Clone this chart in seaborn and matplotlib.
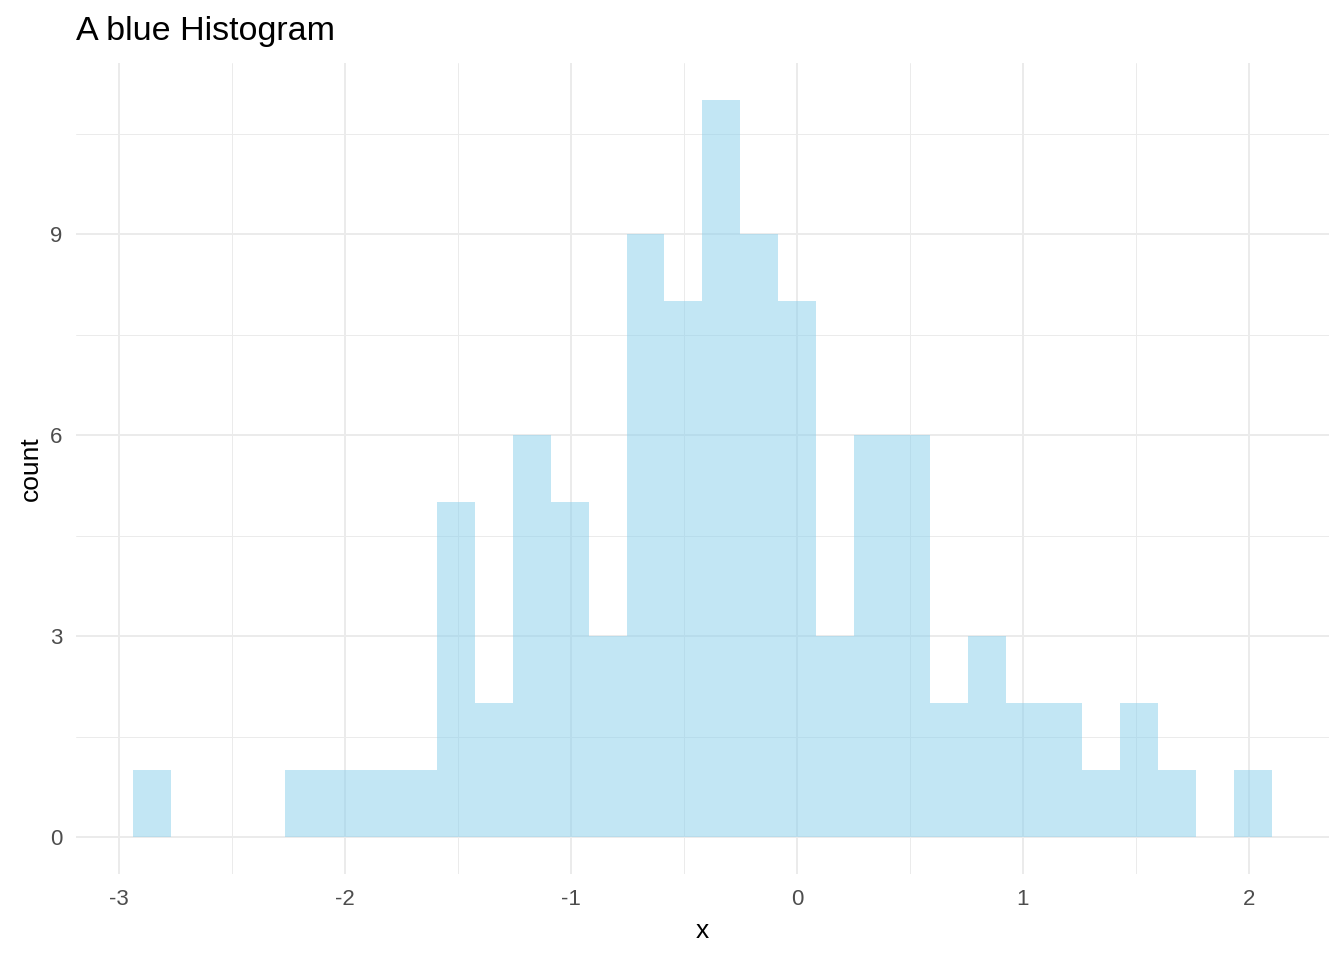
import numpy as np
import matplotlib
matplotlib.use("Agg")
import matplotlib.pyplot as plt
import seaborn as sns

# ---- data (30 bins) ----
bin_start = -2.938
bin_width = 0.168
counts = [1, 0, 0, 0, 1, 1, 1, 1, 5, 2,
          6, 5, 3, 9, 8, 11, 9, 8, 3, 6,
          6, 2, 3, 2, 2, 1, 2, 1, 0, 1]
x_ticks = [-3, -2, -1, 0, 1, 2]
y_ticks = [0, 3, 6, 9]

n_bins = len(counts)
bin_end = bin_start + n_bins * bin_width
centers = bin_start + bin_width * (np.arange(n_bins) + 0.5)

sns.set_theme(style="whitegrid")
plt.rcParams['font.family'] = ['Liberation Sans', 'DejaVu Sans']

fig = plt.figure(figsize=(13.44, 9.6), dpi=100)
ax = fig.add_axes([0.0565, 0.0896, 0.9323, 0.8444])

sns.histplot(x=centers, weights=counts, bins=n_bins, binrange=(bin_start, bin_end),
             color="#87CEEB", alpha=0.5, edgecolor="none", linewidth=0, ax=ax)

span = bin_end - bin_start
ax.set_xlim(bin_start - 0.05 * span, bin_end + 0.05 * span)
ax.set_ylim(-0.05 * max(counts), 1.05 * max(counts))

ax.set_xticks(x_ticks)
ax.set_xticklabels([str(v) for v in x_ticks])
ax.set_yticks(y_ticks)
ax.set_xticks([-2.5, -1.5, -0.5, 0.5, 1.5], minor=True)
ax.set_yticks([1.5, 4.5, 7.5, 10.5], minor=True)

ax.set_axisbelow(True)
ax.grid(which="major", color="#EBEBEB", linewidth=1.4)
ax.grid(which="minor", color="#EBEBEB", linewidth=0.7)
for s in ax.spines.values():
    s.set_visible(False)
ax.tick_params(which="both", length=0, labelsize=16, labelcolor="#4D4D4D")
ax.tick_params(axis="x", pad=11)
ax.tick_params(axis="y", pad=10)
ax.set_facecolor("white")

ax.set_xlabel("x", fontsize=19, color="black", labelpad=6)
ax.set_ylabel("count", fontsize=19, color="black", labelpad=5)
fig.text(0.0565, 0.967, "A blue Histogram", fontsize=24.5, color="black",
         ha="left", va="center")

fig.savefig("out.png", dpi=100, facecolor="white")
